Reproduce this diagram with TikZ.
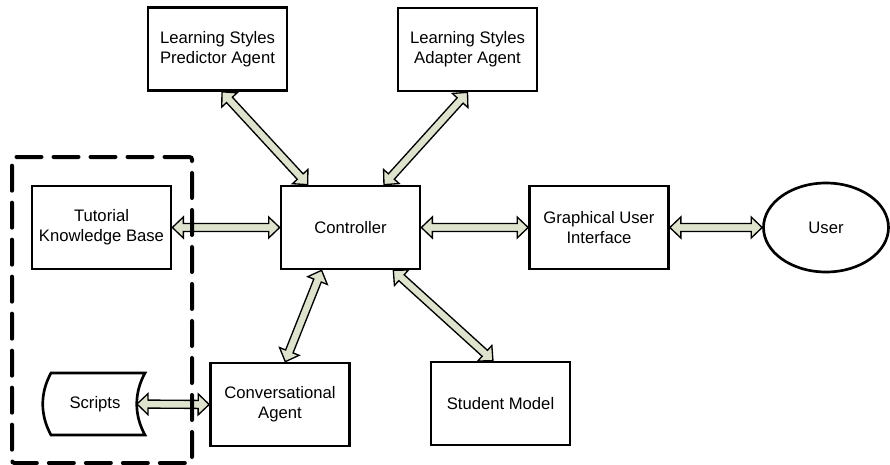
\documentclass[tikz,border=0pt]{standalone}
\usepackage{fontspec}
\setmainfont{Liberation Sans}
\usetikzlibrary{calc, shapes.geometric}

\definecolor{arrowfill}{RGB}{221,227,204}
\newcommand{\headlen}{6.6pt}
\newcommand{\headhalf}{6.3pt}
\newcommand{\shafthalf}{2.4pt}
% block arrow with a head at both ends
\newcommand{\twoway}[2]{%
  \draw[flow] (#1)
    -- ($(#1)!\headlen!(#2)!\headhalf!90:(#2)$) -- ($(#1)!\headlen!(#2)!\shafthalf!90:(#2)$)
    -- ($(#2)!\headlen!(#1)!\shafthalf!-90:(#1)$) -- ($(#2)!\headlen!(#1)!\headhalf!-90:(#1)$)
    -- (#2)
    -- ($(#2)!\headlen!(#1)!\headhalf!90:(#1)$) -- ($(#2)!\headlen!(#1)!\shafthalf!90:(#1)$)
    -- ($(#1)!\headlen!(#2)!\shafthalf!-90:(#2)$) -- ($(#1)!\headlen!(#2)!\headhalf!-90:(#2)$)
    -- cycle;}

\begin{document}
\begin{tikzpicture}[x=0.6pt, y=-0.6pt]
    \tikzstyle{comp} = [draw, line width=1.6pt, fill=white, rectangle, minimum width=83.4pt, minimum height=49.8pt, inner sep=2pt, align=center, font=\fontsize{10}{12}\selectfont]
    \tikzstyle{user} = [draw, line width=1.6pt, fill=white, ellipse, minimum width=75pt, minimum height=53.4pt, inner sep=0pt, font=\fontsize{10}{12}\selectfont]
    \tikzstyle{store} = [rectangle, minimum width=57pt, minimum height=37.2pt, inner sep=0pt, font=\fontsize{10}{12}\selectfont]
    \tikzstyle{group} = [draw, line width=2.4pt, dash pattern=on 15pt off 7.2pt, line cap=round, rounded corners=1.5pt, minimum width=108pt, minimum height=183.6pt]
    \tikzstyle{flow} = [draw=black, line width=0.8pt, fill=arrowfill, line join=miter]

    \useasboundingbox (0,0) rectangle (890,465);

    \node[comp] (pred) at (217.5,49) {Learning Styles\\Predictor Agent};
    \node[comp] (adapt) at (467.5,49.5) {Learning Styles\\Adapter Agent};
    \node[comp] (kb) at (101.5,227.5) {Tutorial\\Knowledge Base};
    \node[comp] (ctrl) at (350.5,227.5) {Controller};
    \node[comp] (gui) at (599,227.5) {Graphical User\\Interface};
    \node[user] (user) at (826,227.5) {User};
    \node[comp] (conv) at (280,404.5) {Conversational\\Agent};
    \node[comp] (student) at (500.5,403.5) {Student Model};

    % stored data shape
    \draw[line width=1.6pt, fill=white] (96,373) -- (145,373)
      .. controls +(-11,20) and +(-11,-20) .. (145,435) -- (51,435)
      .. controls +(-11,-20) and +(-11,20) .. (51,373) -- cycle;
    \node[store] (scripts) at (95,404) {Scripts};
    \coordinate (scripts-in) at (137,404);

    \foreach \from/\to in {pred.276/ctrl.135, adapt.south/ctrl.52, kb.east/ctrl.west, ctrl.east/gui.west, gui.east/user.west, conv.83/ctrl.236, student.100/ctrl.315, scripts-in/conv.west}
    \twoway{\from}{\to};

    \node[group] (kbgroup) at (102,310) {};
\end{tikzpicture}
\end{document}
